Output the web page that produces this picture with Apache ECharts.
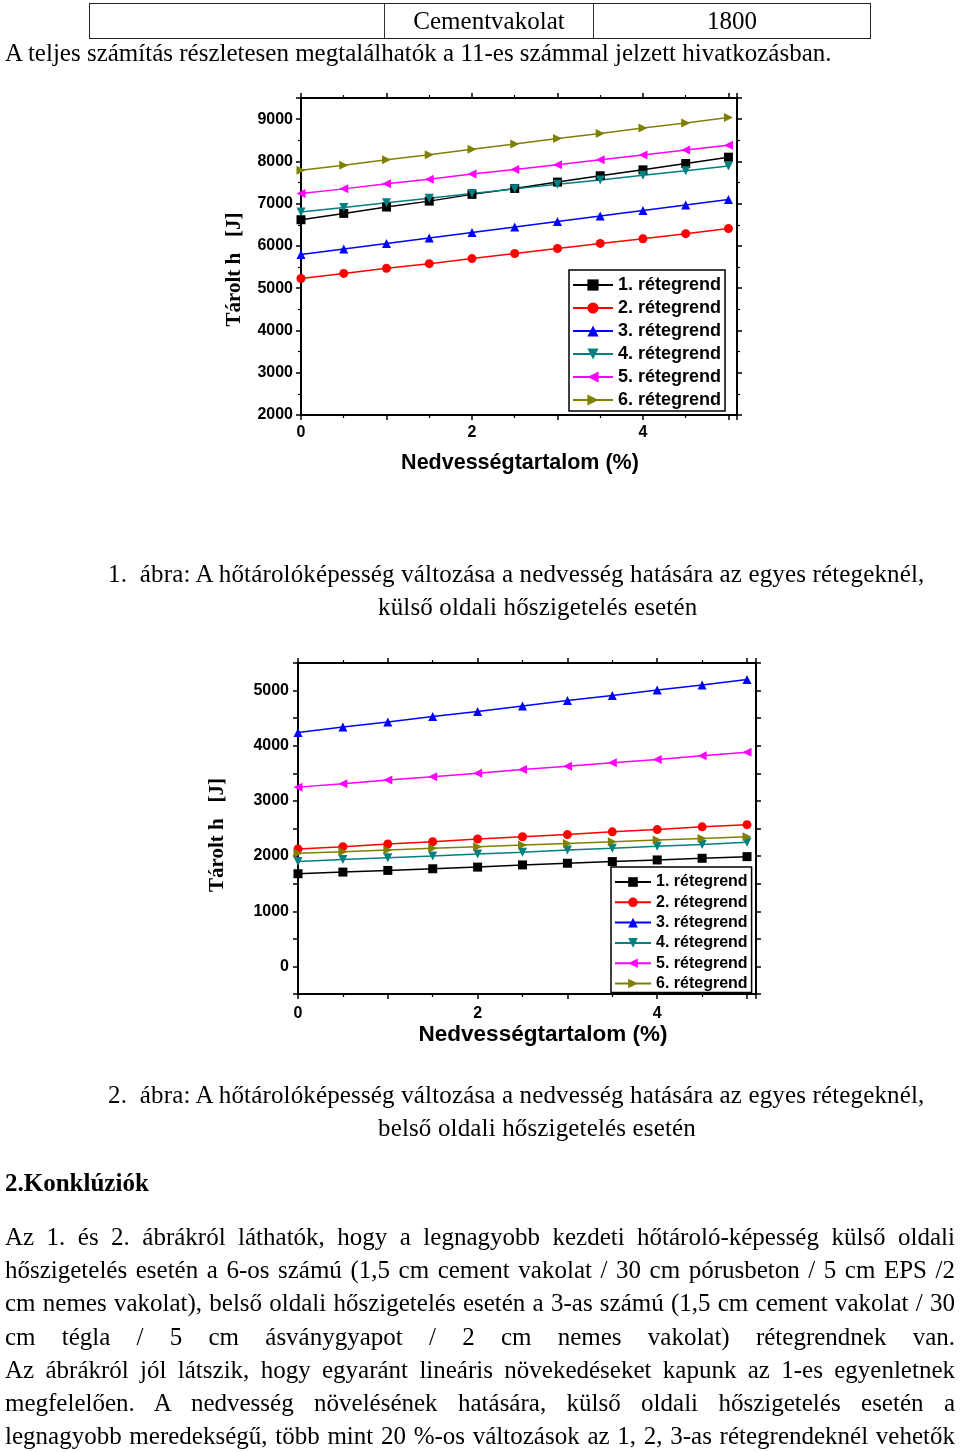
<!DOCTYPE html>
<html><head><meta charset="utf-8">
<script src="https://cdn.jsdelivr.net/npm/echarts@6/dist/echarts.min.js"></script>
<style>
html,body{margin:0;padding:0;background:#fff;}
#page{position:relative;width:960px;height:1452px;overflow:hidden;background:#fff;font-family:"Liberation Serif","Times New Roman",serif;color:#000;}
#chart{position:absolute;left:0;top:0;width:960px;height:1452px;}
.t{position:absolute;font-size:25px;line-height:33px;height:33px;white-space:nowrap;}
.c{letter-spacing:0.15px;}
.j{left:5px;width:950px;text-align:justify;text-align-last:justify;}
.cell{position:absolute;top:0;height:33px;line-height:33px;font-size:25px;text-align:center;}
</style></head>
<body><div id="page">
<div id="chart"></div>

<div style="position:absolute;left:89px;top:3px;width:782px;height:36px;border:1.5px solid #222;box-sizing:border-box;">
  <div style="position:absolute;left:294px;top:0;width:1px;height:100%;background:#333"></div>
  <div style="position:absolute;left:503px;top:0;width:1px;height:100%;background:#333"></div>
  <div class="cell" style="left:295px;width:208px;">Cementvakolat</div>
  <div class="cell" style="left:504px;width:276px;">1800</div>
</div>
<div class="t" style="left:5px;top:36px;">A teljes számítás részletesen megtalálhatók a 11-es számmal jelzett hivatkozásban.</div>

<div class="t c" style="left:108px;top:557px;">1.&nbsp;&nbsp;ábra: A hőtárolóképesség változása a nedvesség hatására az egyes rétegeknél,</div>
<div class="t c" style="left:378px;top:590px;">külső oldali hőszigetelés esetén</div>

<div class="t c" style="left:108px;top:1078px;">2.&nbsp;&nbsp;ábra: A hőtárolóképesség változása a nedvesség hatására az egyes rétegeknél,</div>
<div class="t c" style="left:378px;top:1111px;">belső oldali hőszigetelés esetén</div>

<div class="t" style="left:5px;top:1166px;font-weight:bold;">2.Konklúziók</div>

<div class="t j" style="top:1220px;">Az 1. és 2. ábrákról láthatók, hogy a legnagyobb kezdeti hőtároló-képesség külső oldali</div>
<div class="t j" style="top:1253px;">hőszigetelés esetén a 6-os számú (1,5 cm cement vakolat / 30 cm pórusbeton / 5 cm EPS /2</div>
<div class="t j" style="top:1286px;">cm nemes vakolat), belső oldali hőszigetelés esetén a 3-as számú (1,5 cm cement vakolat / 30</div>
<div class="t j" style="top:1320px;">cm tégla / 5 cm ásványgyapot / 2 cm nemes vakolat) rétegrendnek van.</div>
<div class="t j" style="top:1353px;">Az ábrákról jól látszik, hogy egyaránt lineáris növekedéseket kapunk az 1-es egyenletnek</div>
<div class="t j" style="top:1386px;">megfelelően. A nedvesség növelésének hatására, külső oldali hőszigetelés esetén a</div>
<div class="t j" style="top:1419px;">legnagyobb meredekségű, több mint 20 %-os változások az 1, 2, 3-as rétegrendeknél vehetők</div>
</div>

<script>
// ---- data ----
const moisture = [0, 0.5, 1, 1.5, 2, 2.5, 3, 3.5, 4, 4.5, 5];
const layerNames = ['1. rétegrend', '2. rétegrend', '3. rétegrend', '4. rétegrend', '5. rétegrend', '6. rétegrend'];
const xTickLabels = [0, 2, 4];
const yTickLabels1 = [2000, 3000, 4000, 5000, 6000, 7000, 8000, 9000];
const yTickLabels2 = [0, 1000, 2000, 3000, 4000, 5000];

// Figure 1: external insulation
const fig1Layer1 = [6620, 6770, 6920, 7060, 7220, 7360, 7510, 7660, 7800, 7950, 8100];
const fig1Layer2 = [5230, 5350, 5470, 5580, 5700, 5820, 5940, 6060, 6170, 6290, 6410];
const fig1Layer3 = [5800, 5930, 6060, 6190, 6320, 6450, 6580, 6710, 6840, 6970, 7100];
const fig1Layer4 = [6800, 6910, 7020, 7130, 7240, 7350, 7460, 7560, 7670, 7780, 7890];
const fig1Layer5 = [7240, 7350, 7470, 7580, 7700, 7810, 7920, 8040, 8150, 8270, 8380];
const fig1Layer6 = [7790, 7910, 8040, 8160, 8290, 8410, 8540, 8660, 8790, 8910, 9040];

// Figure 2: internal insulation
const fig2Layer1 = [1680, 1710, 1740, 1770, 1800, 1840, 1870, 1900, 1930, 1960, 1990];
const fig2Layer2 = [2130, 2170, 2220, 2260, 2310, 2350, 2390, 2440, 2480, 2530, 2570];
const fig2Layer3 = [4240, 4340, 4430, 4530, 4620, 4720, 4820, 4910, 5010, 5100, 5200];
const fig2Layer4 = [1900, 1940, 1970, 2000, 2040, 2070, 2110, 2140, 2180, 2210, 2250];
const fig2Layer5 = [3250, 3310, 3380, 3440, 3500, 3570, 3630, 3690, 3750, 3820, 3880];
const fig2Layer6 = [2050, 2080, 2110, 2140, 2170, 2200, 2230, 2260, 2290, 2320, 2350];

// ---- styles ----
const colors = ['#000000', '#ff0000', '#0000ff', '#008080', '#ff00ff', '#808000'];
const symbols = ['rect', 'circle', 'triangle',
  'path://M0,0 L10,0 L5,9 Z',
  'path://M0,5 L9,0 L9,10 Z',
  'path://M0,0 L9,5 L0,10 Z'];

const fig1 = [fig1Layer1, fig1Layer2, fig1Layer3, fig1Layer4, fig1Layer5, fig1Layer6];
const fig2 = [fig2Layer1, fig2Layer2, fig2Layer3, fig2Layer4, fig2Layer5, fig2Layer6];

const sans = 'Liberation Sans, Arial, sans-serif';
const serif = 'Liberation Serif, Times New Roman, serif';
const lbl = {fontFamily: sans, fontWeight: 'bold', fontSize: 16, color: '#000'};
const axLine = {show: true, onZero: false, lineStyle: {color: '#000', width: 2}};
const tick = {show: true, inside: false, length: 5, lineStyle: {color: '#000', width: 1.5}};
const minor = {show: true, splitNumber: 2, length: 3, lineStyle: {color: '#000', width: 1.2}};

function xFmt(v) { return xTickLabels.indexOf(Math.round(v * 1000) / 1000) >= 0 ? String(v) : ''; }
function yFmt(list) { return v => list.indexOf(v) >= 0 ? String(v) : ''; }

function xAxes(grid, nameGap, nameSize, margin, namePad) {
  return [
    {type: 'value', gridIndex: grid, position: 'bottom', min: 0, max: 5.1, interval: 1,
     axisLine: axLine, axisTick: tick, minorTick: minor, splitLine: {show: false},
     axisLabel: Object.assign({margin: margin, formatter: xFmt, showMaxLabel: true}, lbl),
     name: 'Nedvességtartalom (%)', nameLocation: 'middle', nameGap: nameGap,
     nameTextStyle: {fontFamily: sans, fontWeight: 'bold', fontSize: nameSize, color: '#000', padding: namePad}},
    {type: 'value', gridIndex: grid, position: 'top', min: 0, max: 5.1, interval: 1,
     axisLine: axLine, axisTick: tick, minorTick: minor, splitLine: {show: false},
     axisLabel: {show: false}}
  ];
}

const option = {
  animation: false,
  backgroundColor: 'transparent',
  grid: [
    {left: 301, top: 98, width: 436, height: 317, containLabel: false},
    {left: 298, top: 663, width: 458, height: 331, containLabel: false}
  ],
  xAxis: [].concat(xAxes(0, 37, 21.5, 10, [0, 0, 0, 2]), xAxes(1, 20, 22.5, 12, [0, 0, 0, 32])),
  yAxis: [
    {type: 'value', gridIndex: 0, position: 'left', min: 2000, max: 9500, interval: 1000,
     axisLine: axLine, axisTick: tick, minorTick: minor, splitLine: {show: false},
     axisLabel: Object.assign({margin: 8, formatter: yFmt(yTickLabels1)}, lbl),
     name: 'Tárolt h   [J]', nameLocation: 'middle', nameRotate: 90, nameGap: 56,
     nameTextStyle: {fontFamily: serif, fontWeight: 'bold', fontSize: 21, color: '#000', padding: [0, 26, 0, 0]}},
    {type: 'value', gridIndex: 0, position: 'right', min: 2000, max: 9500, interval: 1000,
     axisLine: axLine, axisTick: tick, minorTick: minor, splitLine: {show: false}, axisLabel: {show: false}},
    {type: 'value', gridIndex: 1, position: 'left', min: -500, max: 5500, interval: 500,
     axisLine: axLine, axisTick: tick, splitLine: {show: false},
     axisLabel: Object.assign({margin: 9, formatter: yFmt(yTickLabels2)}, lbl),
     name: 'Tárolt h   [J]', nameLocation: 'middle', nameRotate: 90, nameGap: 70,
     nameTextStyle: {fontFamily: serif, fontWeight: 'bold', fontSize: 21, color: '#000', padding: [0, 13, 0, 0]}},
    {type: 'value', gridIndex: 1, position: 'right', min: -500, max: 5500, interval: 500,
     axisLine: axLine, axisTick: tick, splitLine: {show: false}, axisLabel: {show: false}}
  ],
  legend: [
    {data: layerNames, orient: 'vertical', left: 569, top: 270, padding: [6, 4, 2, 3],
     itemGap: 5, itemWidth: 40, itemHeight: 14, borderColor: '#000', borderWidth: 1.5,
     backgroundColor: '#fff', selectedMode: false,
     textStyle: {fontFamily: sans, fontWeight: 'bold', fontSize: 18, color: '#000', padding: [0, 0, 0, 0]}},
    {data: layerNames, orient: 'vertical', left: 611, top: 867, padding: [7, 4, 1, 3],
     itemGap: 4.3, itemWidth: 36, itemHeight: 12, borderColor: '#000', borderWidth: 1.5,
     backgroundColor: '#fff', selectedMode: false,
     textStyle: {fontFamily: sans, fontWeight: 'bold', fontSize: 16, color: '#000', padding: [0, 0, 0, 0]}}
  ],
  series: []
};

function addSeries(set, xi, yi) {
  set.forEach((vals, i) => {
    option.series.push({
      type: 'line', name: layerNames[i], xAxisIndex: xi, yAxisIndex: yi,
      data: moisture.map((m, k) => [m, vals[k]]),
      symbol: symbols[i], symbolSize: 9, showSymbol: true,
      lineStyle: {color: colors[i], width: 1.5},
      itemStyle: {color: colors[i]},
      color: colors[i]
    });
  });
}
addSeries(fig1, 0, 0);
addSeries(fig2, 2, 2);

const chart = echarts.init(document.getElementById('chart'), null, {renderer: 'canvas'});
chart.setOption(option);
</script>
</body></html>
